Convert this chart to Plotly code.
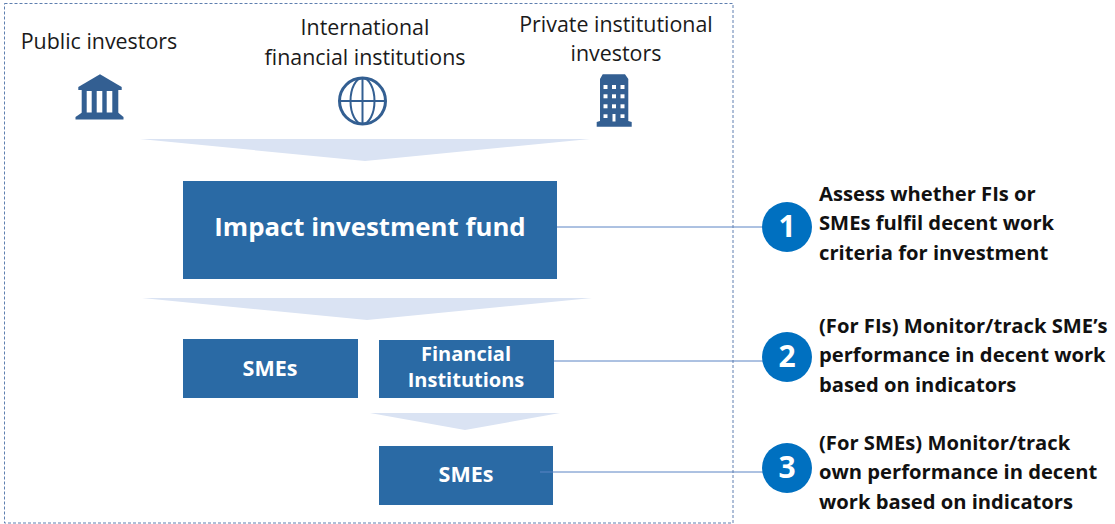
import plotly.graph_objects as go

W, H = 1115, 524
FONT = "Open Sans"
BLUE = "#2A6AA5"
ICON = "#335F92"
PALE = "#DAE3F3"
BADGE = "#0070C0"
LINE = "#5B84C4"

# Boxes
box_x0 = [183, 183, 379, 379]
box_x1 = [557, 358, 554, 553]
box_y0 = [181, 339, 340, 446]
box_y1 = [279, 398, 398, 505]

# Box labels, one entry per line
box_labels = ["Impact investment fund", "SMEs", "Financial", "Institutions", "SMEs"]
box_label_x = [370, 270, 466, 466, 466]
box_label_y = [230, 371, 356, 382, 477]
box_label_sizes = [25.8, 21.5, 20, 20, 21.5]

# Funnels: left x, right x, top y, tip x, tip y
fun_left = [140, 142, 370]
fun_right = [590, 592, 560]
fun_top = [139, 298, 413]
fun_tip_x = [365, 367, 465]
fun_tip_y = [161, 320, 430]

# Connectors and badges
conn_x0 = [557, 554, 540]
conn_y = [227, 361, 472]
badge_labels = ["1", "2", "3"]
badge_x = [787, 787, 787]
badge_y = [227, 357, 468]

# Investor labels
inv_lines = ["Public investors", "International", "financial institutions",
             "Private institutional", "investors"]
inv_x = [99, 365, 365, 616, 616]
inv_y = [44, 30, 60, 27, 56]

# Step text
step_lines = ["Assess whether FIs or", "SMEs fulfil decent work", "criteria for investment",
              "(For FIs) Monitor/track SME’s", "performance in decent work", "based on indicators",
              "(For SMEs) Monitor/track", "own performance in decent", "work based on indicators"]
step_y = [196, 225, 255, 328, 357, 387, 445, 474, 504]
step_x = 819

fig = go.Figure()


def poly(xs, ys, color):
    fig.add_trace(go.Scatter(x=xs, y=ys, mode="lines", fill="toself", fillcolor=color,
                             line=dict(width=0, color=color), hoverinfo="skip", showlegend=False))


def rect(x0, x1, y0, y1, color):
    poly([x0, x1, x1, x0, x0], [y0, y0, y1, y1, y0], color)


# funnels
for l, r, t, tx, ty in zip(fun_left, fun_right, fun_top, fun_tip_x, fun_tip_y):
    poly([l, r, tx, l], [t, t, ty, t], PALE)

# boxes
for x0, x1, y0, y1 in zip(box_x0, box_x1, box_y0, box_y1):
    rect(x0, x1, y0, y1, BLUE)

# connectors
for x0, y in zip(conn_x0, conn_y):
    fig.add_trace(go.Scatter(x=[x0, 770], y=[y, y], mode="lines", line=dict(color=LINE, width=1),
                             hoverinfo="skip", showlegend=False))

for lab, x, y, s in zip(box_labels, box_label_x, box_label_y, box_label_sizes):
    fig.add_trace(go.Scatter(x=[x], y=[y], mode="text", text=[lab],
                             textposition="middle center",
                             textfont=dict(family=FONT, size=s, color="white", weight="bold"),
                             hoverinfo="skip", showlegend=False))

# bank icon
poly([100, 121.7, 121.7, 78.3, 78.3, 100], [74.3, 87, 90, 90, 87, 74.3], ICON)
rect(81.7, 118.3, 90, 113, ICON)
poly([81.7, 118.3, 123.5, 123.5, 75.5, 75.5, 81.7],
     [112.7, 112.7, 117, 119.5, 119.5, 117, 112.7], ICON)
for sx0, sx1 in [(86.7, 91.7), (96.7, 102.3), (106.7, 112.3)]:
    rect(sx0, sx1, 91, 112.5, "white")

# building icon
poly([602.7, 625, 628.3, 628.3, 631.7, 631.7, 596.7, 596.7, 600, 600, 602.7],
     [74.3, 74.3, 79, 121, 122, 126.7, 126.7, 122, 121, 79, 74.3], ICON)
for wy0, wy1 in [(85, 89), (94.3, 98.3), (104.3, 108.3), (114.3, 118)]:
    for k, (wx0, wx1) in enumerate([(603.5, 607.5), (612, 616), (620.5, 624.5)]):
        if wy0 == 114.3 and k == 1:
            continue
        rect(wx0, wx1, wy0, wy1, "white")
rect(612.5, 615.5, 114, 121.5, "white")

# badges
fig.add_trace(go.Scatter(x=badge_x, y=badge_y, mode="markers",
                         marker=dict(size=50, color=BADGE, line=dict(width=0)),
                         hoverinfo="skip", showlegend=False))
fig.add_trace(go.Scatter(x=badge_x, y=[v + 2.5 for v in badge_y], mode="text", text=badge_labels,
                         textposition="middle center",
                         textfont=dict(family=FONT, size=30, color="white", weight="bold"),
                         hoverinfo="skip", showlegend=False))

# labels
fig.add_trace(go.Scatter(x=inv_x, y=inv_y, mode="text", text=inv_lines, textposition="middle center",
                         textfont=dict(family=FONT, size=21.4, color="#1a1a1a"),
                         hoverinfo="skip", showlegend=False))
fig.add_trace(go.Scatter(x=[step_x] * len(step_lines), y=step_y, mode="text", text=step_lines,
                         textposition="middle right",
                         textfont=dict(family=FONT, size=20.2, color="#111111", weight="bold"),
                         hoverinfo="skip", showlegend=False))

# globe + outer dashed frame
shapes = [
    dict(type="rect", x0=4.5, x1=733, y0=3.5, y1=523, line=dict(color="#5F7FB0", width=1, dash="3px,2px")),
    dict(type="circle", x0=339.5, x1=385.5, y0=78, y1=124, line=dict(color=ICON, width=3)),
    dict(type="circle", x0=350.5, x1=374.5, y0=78, y1=124, line=dict(color=ICON, width=2)),
    dict(type="line", x0=362.5, x1=362.5, y0=78, y1=124, line=dict(color=ICON, width=2)),
    dict(type="line", x0=340, x1=385, y0=101, y1=101, line=dict(color=ICON, width=2)),
]

fig.update_layout(
    width=W, height=H, margin=dict(l=0, r=0, t=0, b=0), showlegend=False,
    paper_bgcolor="white", plot_bgcolor="white", shapes=shapes,
    xaxis=dict(range=[0, W], visible=False, fixedrange=True),
    yaxis=dict(range=[H, 0], visible=False, fixedrange=True),
)
fig.write_html("out.html", config={"displayModeBar": False},
               post_script="document.body.style.margin='0';document.documentElement.style.overflow='hidden';")
